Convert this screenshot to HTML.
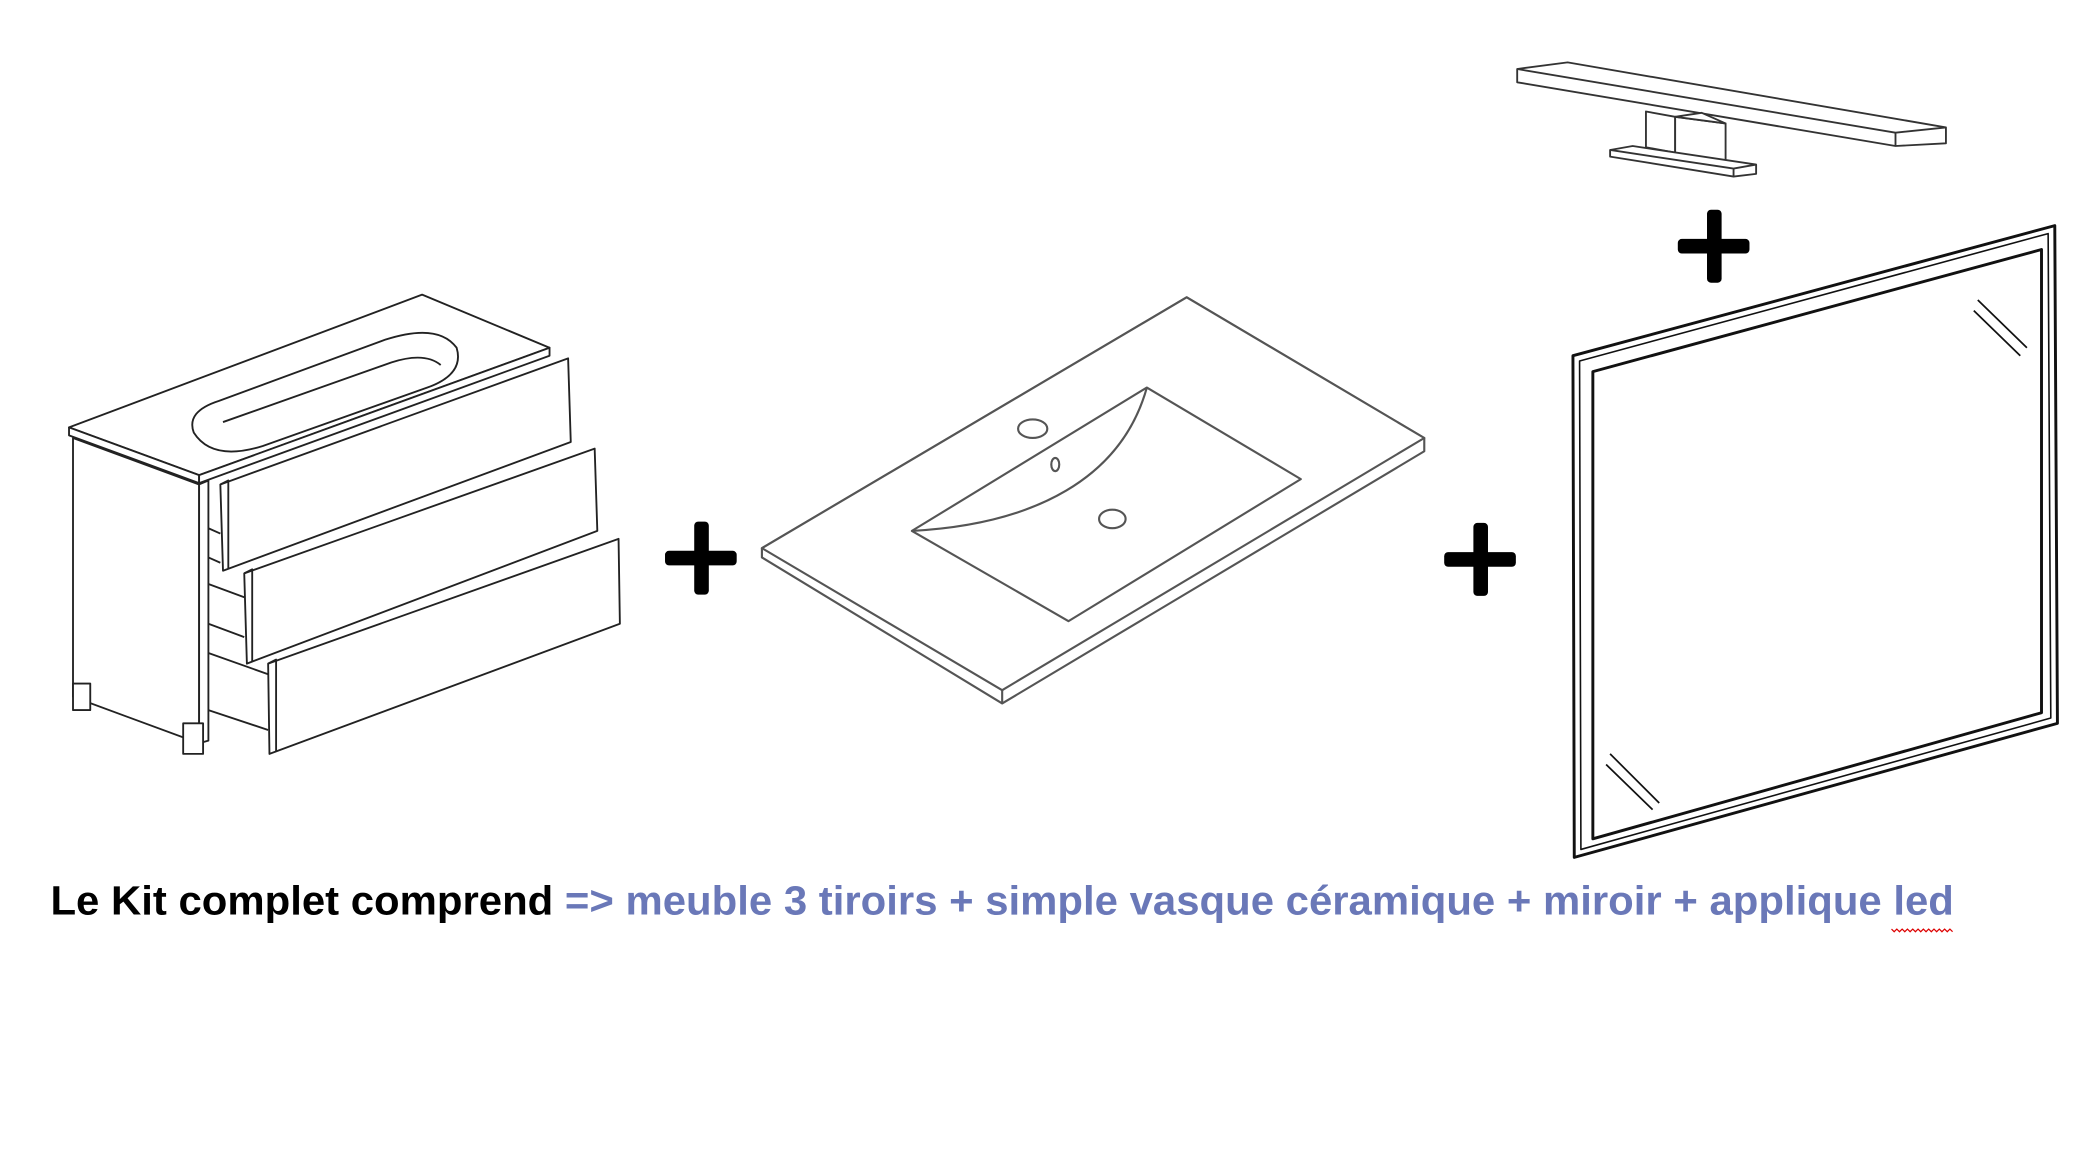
<!DOCTYPE html>
<html><head><meta charset="utf-8"><style>
html,body{margin:0;padding:0;background:#fff;}
svg{display:block;}
</style></head><body>
<svg width="2080" height="1162" viewBox="0 0 1567 875.5" preserveAspectRatio="none" xmlns="http://www.w3.org/2000/svg">
<rect width="1567" height="875.5" fill="#fff"/>
<!-- Cabinet -->
<g fill="#fff" stroke="#222" stroke-width="1.4" stroke-linejoin="round">
  <polygon points="55,330 150,365 150,560 55,525"/>
  <polygon points="150,365 157,362 157,558 150,560"/>
  <rect x="55" y="515" width="13" height="20"/>
  <rect x="138" y="545" width="15" height="23"/>
  <polygon points="52,322 318,222 414,262 150,358"/>
  <polygon points="52,322 150,358 150,364 52,328"/>
  <polygon points="150,358 414,262 414,268 150,364"/>
  <path d="M165,302 L290,256 Q330,243 344,262 Q350,282 322,292 L198,336 Q160,348 146,326 Q140,310 165,302 Z"/>
  <path d="M168,318 L295,273 Q320,265 332,275" fill="none"/>
  <path d="M157,398 L166,402 M157,420 L166,424 M157,440 L184,450 M157,470 L184,480 M157,492 L202,508 M157,535 L202,550" fill="none"/>
  <polygon points="166,365 428,270 430,333 168,430"/>
  <polygon points="184,432 448,338 450,400 186,500"/>
  <polygon points="202,500 466,406 467,470 203,568"/>
  <path d="M166,365 L172,362 L172,428 M184,432 L190,429 L190,498 M202,500 L208,497 L208,566" fill="none"/>
</g>
<!-- plus signs -->
<g fill="#000">
  <rect x="501" y="415" width="54" height="11" rx="3"/><rect x="523" y="393" width="11" height="55" rx="3"/>
  <rect x="1088" y="416" width="54" height="11" rx="3"/><rect x="1110" y="394" width="11" height="55" rx="3"/>
  <rect x="1264" y="180" width="54" height="11" rx="3"/><rect x="1286" y="158" width="11" height="55" rx="3"/>
</g>
<!-- Sink -->
<g fill="#fff" stroke="#555" stroke-width="1.6" stroke-linejoin="round">
  <polygon points="574,413 894,224 1073,330 1073,340 755,530 574,420"/>
  <polygon points="574,413 894,224 1073,330 755,520"/>
  <path d="M755,520 L755,530" fill="none"/>
  <polygon points="687,400 864,292 980,361 805,468"/>
  <path d="M864,292 C845,360 780,395 687,400" fill="none"/>
  <ellipse cx="778" cy="323" rx="11" ry="7"/>
  <ellipse cx="838" cy="391" rx="10" ry="7"/>
  <ellipse cx="795" cy="350" rx="3" ry="5"/>
</g>
<!-- Mirror -->
<g fill="none" stroke="#111" stroke-width="2.2" stroke-linejoin="round">
  <polygon points="1185,268 1548,170 1550,545 1186,646"/>
  <polygon points="1190,272 1543,176 1545,541 1191,640" stroke-width="1.2"/>
  <polygon points="1200,280 1538,188 1538,537 1200,632"/>
  <path d="M1490,226 L1527,262 M1487,234 L1522,268 M1213,568 L1250,605 M1210,576 L1245,610" stroke-width="1.3"/>
</g>
<!-- LED light -->
<g fill="#fff" stroke="#333" stroke-width="1.4" stroke-linejoin="round">
  <polygon points="1143,62 1143,52 1181,47 1466,96 1466,108 1428,110"/>
  <path d="M1143,52 L1428,100 L1466,96 M1428,100 L1428,110" fill="none"/>
  <polygon points="1240,84 1262,88 1262,115 1240,111"/>
  <polygon points="1262,88 1300,93 1300,122 1262,115"/>
  <polygon points="1262,88 1282,85 1300,93" />
  <polygon points="1213,113 1230,110 1323,124 1323,131 1306,133 1213,118"/>
  <path d="M1213,113 L1306,127 L1323,124 M1306,127 L1306,133" fill="none"/>
</g>
<!-- Text -->
<text x="38" y="689" font-family="Liberation Sans, sans-serif" font-weight="bold" font-size="31" textLength="1434" lengthAdjust="spacingAndGlyphs"><tspan fill="#000">Le Kit complet comprend </tspan><tspan fill="#6a78b8">=&gt; meuble 3 tiroirs + simple vasque céramique + miroir + applique led</tspan></text>
<path d="M1425,700 l2,2 l2,-2 l2,2 l2,-2 l2,2 l2,-2 l2,2 l2,-2 l2,2 l2,-2 l2,2 l2,-2 l2,2 l2,-2 l2,2 l2,-2 l2,2 l2,-2 l2,2 l2,-2 l2,2 l2,-2 l2,2" fill="none" stroke="#d00" stroke-width="0.9"/>
</svg>
</body></html>
